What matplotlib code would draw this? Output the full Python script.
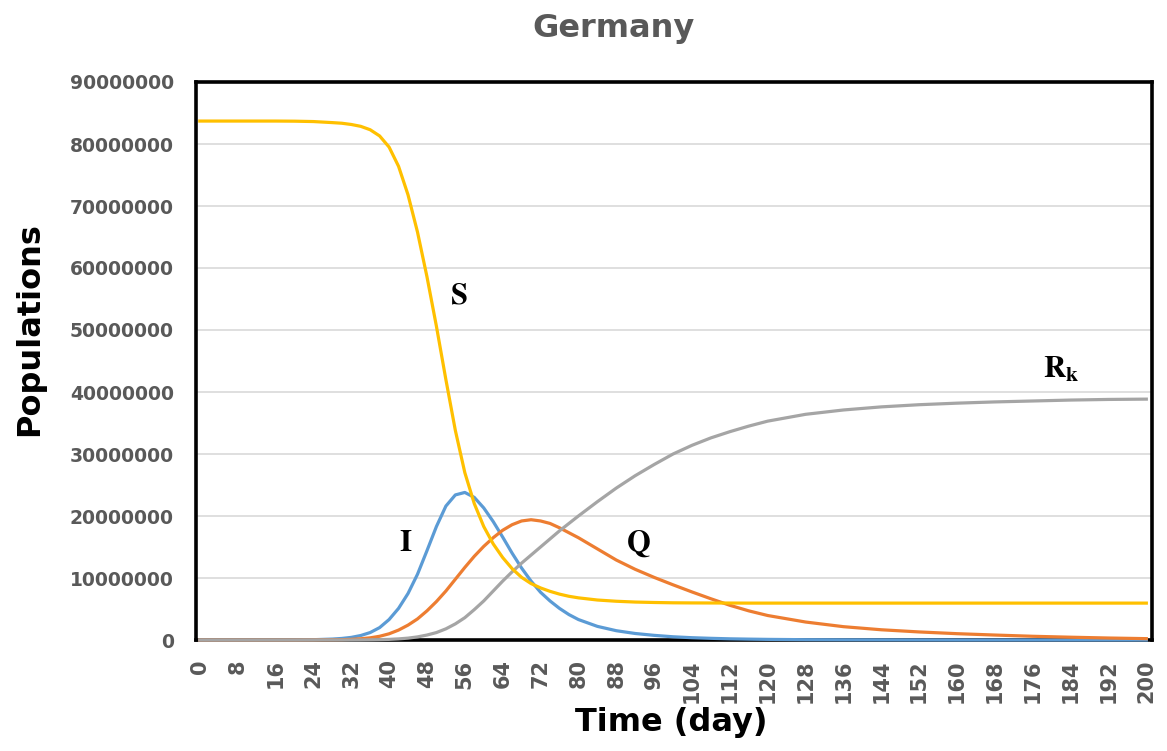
import matplotlib
matplotlib.use('Agg')
import matplotlib.pyplot as plt

days = [0, 8, 16, 20, 24, 28, 30, 32, 34, 36, 38, 40, 42, 44, 46, 48, 50, 52, 54, 56,
        58, 60, 62, 64, 66, 68, 70, 72, 74, 76, 78, 80, 84, 88, 92, 96, 100, 104, 108,
        112, 116, 120, 128, 136, 144, 152, 160, 168, 176, 184, 192, 200]

# populations in millions
S = [83.7, 83.7, 83.7, 83.68, 83.62, 83.45, 83.35, 83.15, 82.85, 82.3, 81.3, 79.5,
     76.4, 71.8, 65.8, 58.6, 50.6, 42.0, 33.8, 27.0, 22.0, 18.3, 15.5, 13.3, 11.5,
     10.1, 9.1, 8.4, 7.85, 7.4, 7.05, 6.8, 6.45, 6.25, 6.12, 6.05, 6.0, 5.98, 5.97,
     5.96, 5.95, 5.95, 5.95, 5.95, 5.95, 5.95, 5.95, 5.95, 5.95, 5.95, 5.95, 5.95]
I = [0.0, 0.0, 0.01, 0.02, 0.05, 0.15, 0.25, 0.42, 0.72, 1.2, 2.0, 3.3, 5.1, 7.5,
     10.6, 14.4, 18.3, 21.6, 23.4, 23.8, 23.0, 21.3, 19.1, 16.6, 14.0, 11.6, 9.5, 7.7,
     6.3, 5.1, 4.1, 3.3, 2.2, 1.5, 1.05, 0.75, 0.52, 0.37, 0.27, 0.19, 0.14, 0.1,
     0.05, 0.03, 0.02, 0.01, 0.0, 0.0, 0.0, 0.0, 0.0, 0.0]
Q = [0.0, 0.0, 0.0, 0.0, 0.01, 0.03, 0.05, 0.1, 0.2, 0.35, 0.6, 1.0, 1.6, 2.4, 3.4,
     4.7, 6.2, 7.9, 9.8, 11.7, 13.5, 15.1, 16.5, 17.7, 18.6, 19.2, 19.4, 19.2, 18.8,
     18.1, 17.3, 16.5, 14.7, 12.9, 11.4, 10.1, 8.9, 7.75, 6.65, 5.6, 4.7, 3.95, 2.9,
     2.15, 1.65, 1.3, 1.02, 0.8, 0.6, 0.45, 0.32, 0.22]
R = [0.0, 0.0, 0.0, 0.0, 0.0, 0.0, 0.0, 0.0, 0.01, 0.03, 0.06, 0.1, 0.18, 0.3, 0.5,
     0.8, 1.2, 1.8, 2.6, 3.6, 4.9, 6.3, 7.9, 9.5, 11.0, 12.4, 13.7, 15.0, 16.3, 17.6,
     18.8, 20.0, 22.3, 24.5, 26.5, 28.3, 30.0, 31.4, 32.6, 33.6, 34.5, 35.3, 36.4,
     37.1, 37.6, 37.95, 38.2, 38.4, 38.55, 38.7, 38.8, 38.85]

x_ticks = list(range(0, 201, 8))
y_ticks = [0, 10000000, 20000000, 30000000, 40000000, 50000000, 60000000, 70000000,
           80000000, 90000000]

plt.rcParams['mathtext.fontset'] = 'stix'

fig = plt.figure(figsize=(11.67, 7.51), dpi=100)
ax = fig.add_axes([196 / 1167, 111 / 751, 956 / 1167, 558 / 751])

mil = 1e6
line_kw = dict(lw=2.3, zorder=3, clip_on=False, solid_joinstyle='round')
ax.plot(days, [v * mil for v in I], color='#5B9BD5', **line_kw)
ax.plot(days, [v * mil for v in Q], color='#ED7D31', **line_kw)
ax.plot(days, [v * mil for v in R], color='#A5A5A5', **line_kw)
ax.plot(days, [v * mil for v in S], color='#FFC000', **line_kw)

ax.set_xlim(-0.8, 201.2)
ax.set_ylim(0, 90000000)
ax.set_xticks(x_ticks)
ax.set_xticklabels([str(t) for t in x_ticks], rotation=90)
ax.set_yticks(y_ticks)
ax.set_yticklabels([str(t) for t in y_ticks])
ax.tick_params(axis='both', length=0, colors='#595959')
ax.tick_params(axis='y', pad=16, labelsize=13.5)
ax.tick_params(axis='x', pad=14, labelsize=15)
for lab in ax.get_xticklabels() + ax.get_yticklabels():
    lab.set_fontweight('bold')

ax.grid(axis='y', color='#d9d9d9', lw=1.2)
ax.set_axisbelow(True)
for sp in ax.spines.values():
    sp.set_color('black')
    sp.set_linewidth(2.6)

# curve labels
lab_kw = dict(fontsize=22, ha='center', va='center', color='black')
ax.text(54.8, 55.6e6, r'$\mathbf{S}$', **lab_kw)
ax.text(43.6, 15.8e6, r'$\mathbf{I}$', **lab_kw)
ax.text(92.6, 15.6e6, r'$\mathbf{Q}$', **lab_kw)
ax.text(182.0, 43.6e6, r'$\mathbf{R_k}$', **lab_kw)

fig.text(613 / 1167, 1 - 28 / 751, 'Germany', fontsize=23, fontweight='bold',
         color='#595959', ha='center', va='center')
fig.text(30 / 1167, 1 - 329 / 751, 'Populations', fontsize=23, fontweight='bold',
         rotation=90, ha='center', va='center')
fig.text(671 / 1167, 1 - 723 / 751, 'Time (day)', fontsize=23, fontweight='bold',
         ha='center', va='center')

fig.savefig('out.png', dpi=100)
